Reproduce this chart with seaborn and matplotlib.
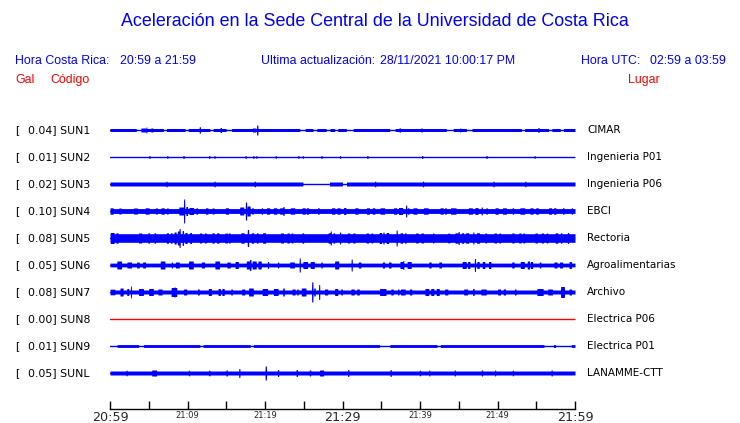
import numpy as np
import pandas as pd
import matplotlib
matplotlib.use("Agg")
import matplotlib.pyplot as plt
import seaborn as sns

# ---------------- data ----------------
codes = ["SUN1", "SUN2", "SUN3", "SUN4", "SUN5", "SUN6", "SUN7", "SUN8", "SUN9", "SUNL"]
gal_values = [0.04, 0.01, 0.02, 0.10, 0.08, 0.05, 0.08, 0.00, 0.01, 0.05]
places = ["CIMAR", "Ingenieria P01", "Ingenieria P06", "EBCI", "Rectoria",
          "Agroalimentarias", "Archivo", "Electrica P06", "Electrica P01", "LANAMME-CTT"]

# minutes after 20:59 (0..60); tick labels every 10 minutes, ticks every 5
tick_minutes = [0, 5, 10, 15, 20, 25, 30, 35, 40, 45, 50, 55, 60]
tick_labels = ["20:59", "", "21:09", "", "21:19", "", "21:29", "", "21:39", "", "21:49", "", "21:59"]

# background envelope half-height of each trace (relative amplitude units)
base_amp = [1.5, 0.5, 2.0, 2.4, 4.3, 1.9, 2.0, 0.5, 1.4, 2.0]

# quiet stretches: (start minute, end minute)
sun1_quiet = [(3.4, 4.1), (6.9, 7.3), (9.7, 10.1), (12.9, 13.3), (15.0, 15.7), (24.5, 25.2),
              (26.2, 26.7), (27.9, 28.4), (29.0, 29.4), (30.5, 31.4), (36.1, 36.8),
              (43.4, 44.3), (46.0, 46.7), (53.1, 53.5), (56.6, 57.0), (58.1, 58.5)]
sun3_quiet = [(24.9, 28.3), (30.0, 30.5)]
sun9_quiet = [(0.0, 0.9), (3.7, 4.3), (11.6, 12.0), (18.1, 18.5), (34.8, 36.1),
              (42.2, 42.6), (56.0, 57.2), (57.5, 59.5)]

# events: (minute, half amplitude, duration in minutes)
sun1_events = [(4.7, 3.0, 0.15), (4.3, 2.0, 0.6), (5.4, 2.0, 0.3), (11.6, 3.3, 0.15),
               (14.3, 2.5, 0.15), (19.0, 5.0, 0.15), (18.6, 2.0, 0.4), (37.4, 2.2, 0.15),
               (40.2, 2.2, 0.15), (45.2, 2.0, 0.15), (55.3, 2.5, 0.15)]
sun2_events = [(5.1, 1.5, 0.15), (7.4, 1.5, 0.15), (9.5, 1.5, 0.15), (12.8, 1.3, 0.15),
               (13.5, 1.3, 0.15), (17.5, 1.3, 0.15), (18.5, 1.3, 0.15), (18.9, 1.3, 0.15),
               (21.4, 1.3, 0.15), (24.3, 1.3, 0.15), (24.9, 1.3, 0.15), (27.3, 1.3, 0.15),
               (29.7, 1.3, 0.15), (33.2, 1.5, 0.15), (40.3, 1.5, 0.15), (48.6, 1.5, 0.15),
               (54.8, 1.3, 0.15)]
sun3_events = [(7.3, 2.8, 0.15), (13.5, 2.8, 0.15), (18.7, 2.8, 0.15), (34.2, 2.8, 0.15),
               (40.4, 2.8, 0.15), (49.5, 2.8, 0.15), (53.6, 2.8, 0.15)]
sun4_events = [(0.2, 3.2, 0.4), (1.3, 3.0, 0.3), (3.3, 3.0, 0.5), (4.8, 3.2, 0.5), (6.0, 3.0, 0.3),
               (6.8, 3.2, 0.4), (7.4, 3.0, 0.2), (9.2, 4.0, 0.6), (9.55, 12.0, 0.15),
               (9.9, 4.5, 0.2), (10.5, 3.5, 0.6), (11.2, 3.2, 0.2), (12.5, 3.2, 0.3),
               (13.3, 3.0, 0.3), (15.1, 3.2, 0.4), (17.0, 4.0, 0.5), (17.55, 9.0, 0.15),
               (17.9, 5.0, 0.4), (18.4, 3.2, 0.2), (19.6, 3.2, 0.2), (20.4, 3.2, 0.4),
               (21.3, 3.2, 0.4), (22.2, 3.2, 0.6), (22.4, 4.5, 0.15), (23.55, 3.2, 0.6),
               (25.0, 3.2, 0.4), (25.5, 3.2, 0.3), (26.9, 3.2, 0.2), (28.8, 3.2, 0.4),
               (29.5, 3.2, 0.4), (30.3, 3.5, 0.3), (31.8, 3.2, 0.4), (33.3, 3.2, 0.4),
               (34.0, 3.2, 0.3), (35.15, 3.2, 0.6), (36.8, 3.2, 0.4), (37.5, 3.5, 0.5),
               (38.2, 6.0, 0.15), (38.5, 3.2, 0.2), (39.35, 3.2, 0.5), (40.75, 3.2, 0.6),
               (42.8, 3.2, 0.4), (43.3, 3.2, 0.2), (44.3, 3.2, 0.7), (46.5, 3.2, 0.5),
               (47.3, 3.4, 0.4), (47.96, 4.0, 0.15), (48.6, 3.2, 0.2), (49.9, 3.2, 0.4),
               (50.9, 3.2, 0.5), (52.0, 3.2, 0.2), (53.2, 3.2, 0.6), (54.4, 3.2, 0.4),
               (55.1, 3.2, 0.3), (56.8, 3.2, 0.4), (57.4, 3.2, 0.3), (58.5, 3.2, 0.2),
               (59.6, 3.2, 0.2)]
sun5_events = [(0.3, 5.5, 0.5), (0.9, 5.2, 0.3), (3.9, 5.0, 0.4), (5.0, 5.5, 0.15), (5.8, 5.2, 0.2),
               (7.4, 5.2, 0.3), (7.9, 5.2, 0.2), (8.4, 6.0, 0.3), (8.8, 7.0, 0.2), (9.0, 9.5, 0.15),
               (9.4, 7.5, 0.15), (9.8, 5.5, 0.3), (10.4, 5.5, 0.2), (11.7, 5.0, 0.3),
               (12.3, 5.0, 0.2), (13.3, 5.2, 0.3), (13.9, 5.2, 0.3), (15.0, 5.0, 0.3),
               (15.4, 5.0, 0.2), (17.1, 5.2, 0.4), (17.8, 8.5, 0.15), (18.4, 5.2, 0.3),
               (19.0, 5.2, 0.2), (19.9, 5.2, 0.4), (22.2, 5.0, 0.4), (23.0, 5.0, 0.3),
               (23.5, 5.0, 0.2), (24.9, 5.2, 0.2), (28.3, 5.2, 0.3), (28.5, 7.0, 0.15),
               (28.9, 5.2, 0.2), (29.7, 6.0, 0.15), (30.8, 5.0, 0.3), (31.5, 5.0, 0.3),
               (33.2, 5.0, 0.3), (33.8, 5.0, 0.2), (34.9, 5.5, 0.3), (35.3, 6.0, 0.15),
               (35.8, 5.5, 0.3), (37.0, 8.0, 0.15), (37.6, 5.2, 0.3), (38.1, 5.2, 0.2),
               (39.6, 5.0, 0.3), (40.3, 5.0, 0.3), (41.7, 5.0, 0.2), (43.7, 4.8, 0.3),
               (44.7, 5.2, 0.4), (45.0, 6.5, 0.15), (45.5, 5.2, 0.3), (46.1, 5.2, 0.4),
               (46.9, 6.0, 0.15), (47.5, 5.2, 0.4), (48.5, 5.0, 0.2), (49.7, 5.0, 0.3),
               (50.3, 5.0, 0.2), (52.0, 5.0, 0.3), (52.9, 5.0, 0.3), (53.4, 5.0, 0.2),
               (55.0, 5.0, 0.3), (55.8, 5.0, 0.3), (56.4, 5.0, 0.2), (57.6, 5.2, 0.3),
               (58.2, 5.2, 0.2), (59.1, 5.5, 0.15)]
sun6_events = [(1.2, 4.0, 0.6), (2.5, 3.0, 0.6), (3.6, 3.0, 0.3), (4.4, 3.0, 0.4), (6.8, 4.0, 0.6),
               (8.0, 3.0, 0.15), (8.7, 3.0, 0.5), (10.45, 4.0, 0.6), (12.0, 3.0, 0.4),
               (13.85, 4.0, 0.6), (15.3, 3.0, 0.4), (16.35, 3.5, 0.4), (17.8, 4.0, 0.4),
               (18.1, 5.5, 0.15), (18.6, 4.0, 0.5), (19.3, 4.0, 0.4), (20.4, 3.5, 0.15),
               (21.7, 3.0, 0.15), (23.5, 3.0, 0.6), (24.5, 7.0, 0.15), (25.2, 3.5, 0.6),
               (26.1, 3.5, 0.5), (27.3, 3.0, 0.15), (29.25, 4.0, 0.5), (31.2, 6.0, 0.15),
               (32.2, 3.0, 0.3), (35.3, 3.0, 0.3), (36.1, 3.0, 0.3), (37.6, 3.5, 0.4),
               (37.85, 4.5, 0.15), (38.6, 3.5, 0.5), (41.3, 3.0, 0.3), (42.6, 3.0, 0.3),
               (45.7, 3.5, 0.5), (46.3, 3.5, 0.3), (47.1, 6.5, 0.15), (47.5, 3.5, 0.3),
               (48.2, 3.5, 0.3), (49.0, 3.5, 0.3), (52.0, 3.0, 0.3), (53.2, 3.5, 0.5),
               (54.0, 4.0, 0.3), (54.4, 3.5, 0.3), (55.5, 3.0, 0.2), (57.5, 3.0, 0.4),
               (58.2, 3.0, 0.4), (59.4, 3.5, 0.3)]
sun7_events = [(0.3, 2.8, 0.65), (1.5, 4.0, 0.4), (2.3, 3.5, 0.25), (2.7, 6.0, 0.15),
               (4.0, 3.5, 0.6), (5.3, 3.5, 0.6), (6.45, 3.0, 0.5), (8.1, 4.5, 0.4), (8.3, 5.0, 0.15),
               (8.5, 4.5, 0.2), (9.7, 3.0, 0.4), (11.4, 3.0, 0.2), (12.9, 3.5, 0.4),
               (14.1, 3.5, 0.3), (14.6, 3.5, 0.3), (15.7, 3.0, 0.2), (17.2, 3.0, 0.4),
               (18.2, 4.0, 0.6), (20.0, 3.5, 0.7), (21.4, 3.5, 0.6), (22.4, 4.0, 0.2),
               (23.7, 3.0, 0.4), (24.2, 3.0, 0.2), (25.0, 4.0, 0.6), (26.1, 10.0, 0.15),
               (26.4, 4.0, 0.2), (27.0, 7.5, 0.15), (27.9, 3.0, 0.4), (29.2, 3.5, 0.4),
               (29.9, 3.0, 0.2), (31.3, 3.0, 0.4), (32.0, 3.0, 0.3), (35.2, 3.5, 0.8),
               (36.4, 3.0, 0.3), (37.2, 3.0, 0.2), (37.8, 3.0, 0.6), (38.8, 3.0, 0.3),
               (40.9, 3.5, 0.5), (41.6, 3.5, 0.4), (42.3, 3.5, 0.4), (43.4, 3.0, 0.4),
               (45.9, 3.0, 0.5), (46.9, 3.5, 0.2), (48.2, 3.0, 0.7), (50.2, 3.0, 0.4),
               (50.9, 3.0, 0.3), (52.3, 3.0, 0.2), (55.5, 3.5, 0.8), (56.8, 3.0, 0.6),
               (58.4, 5.5, 0.5), (59.4, 3.0, 0.3)]
sun8_events = []
sun9_events = []
sunl_events = [(2.15, 2.8, 0.15), (5.7, 3.0, 0.6), (10.2, 2.8, 0.15), (12.8, 2.8, 0.15),
               (15.05, 3.0, 0.15), (16.7, 4.5, 0.15), (20.1, 7.0, 0.15), (21.7, 3.5, 0.15),
               (24.1, 3.5, 0.15), (25.8, 3.0, 0.15), (27.3, 3.0, 0.5), (30.75, 3.5, 0.15),
               (36.2, 3.5, 0.15), (40.0, 2.8, 0.15), (41.2, 3.0, 0.15), (44.5, 3.0, 0.15),
               (48.0, 3.0, 0.15), (49.7, 3.0, 0.15), (52.0, 2.8, 0.15), (57.0, 3.0, 0.15)]

all_events = [sun1_events, sun2_events, sun3_events, sun4_events, sun5_events,
              sun6_events, sun7_events, sun8_events, sun9_events, sunl_events]
all_quiet = [sun1_quiet, [], sun3_quiet, [], [], [], [], [], sun9_quiet, []]
trace_colors = ["#0000ff"] * 7 + ["#ff0000"] + ["#0000ff"] * 2

# ---------------- figure ----------------
sns.set_style("white")
plt.rcParams["font.family"] = ["DejaVu Sans"]

W, H = 740, 423
fig = plt.figure(figsize=(W / 100, H / 100), dpi=100)
fig.patch.set_facecolor("white")

def fx(x):
    return x / W

def fy(y):
    return 1 - y / H

BLUE = "#0000ff"
RED = "#ff0000"
LIB = ["Liberation Sans", "DejaVu Sans"]

# header texts
fig.text(fx(375), fy(22), "Aceleración en la Sede Central de la Universidad de Costa Rica",
         ha="center", va="center", color=BLUE, fontsize=12.9, family=LIB)
hdr = 8.9
fig.text(fx(15), fy(61), "Hora Costa Rica:", ha="left", va="center", color=BLUE, fontsize=hdr, family=LIB)
fig.text(fx(120), fy(61), "20:59 a 21:59", ha="left", va="center", color=BLUE, fontsize=hdr, family=LIB)
fig.text(fx(261), fy(61), "Ultima actualización:", ha="left", va="center", color=BLUE, fontsize=hdr, family=LIB)
fig.text(fx(380), fy(61), "28/11/2021 10:00:17 PM", ha="left", va="center", color=BLUE, fontsize=hdr, family=LIB)
fig.text(fx(581), fy(61), "Hora UTC:", ha="left", va="center", color=BLUE, fontsize=hdr, family=LIB)
fig.text(fx(726), fy(61), "02:59 a 03:59", ha="right", va="center", color=BLUE, fontsize=hdr, family=LIB)
fig.text(fx(15), fy(80), "Gal", ha="left", va="center", color=RED, fontsize=hdr, family=LIB)
fig.text(fx(50), fy(80), "Código", ha="left", va="center", color=RED, fontsize=hdr, family=LIB)
fig.text(fx(628), fy(80), "Lugar", ha="left", va="center", color=RED, fontsize=hdr, family=LIB)

# trace axes: rows 27 px apart, first row at y=130 px, axis line at y=409 px
top_px, bot_px, row0_px, step_px = 115, 409, 130, 27
ax = fig.add_axes([fx(110), fy(bot_px), (575 - 110) / W, (bot_px - top_px) / H])
ax.set_xlim(0, 60)
ax.set_ylim((bot_px - row0_px) / step_px, (top_px - row0_px) / step_px)
ax.set_facecolor("none")

t = np.linspace(0, 60, 2401)
for i, code in enumerate(codes):
    env = np.full_like(t, base_amp[i])
    for (a, b) in all_quiet[i]:
        env[(t >= a) & (t <= b)] = 0.5
    for (tc, amp, w) in all_events[i]:
        m = np.abs(t - tc) <= w / 2
        env[m] = np.maximum(env[m], amp)
    scale = 1.0 / step_px
    ax.fill_between(t, i - env * scale, i + env * scale, color=trace_colors[i], lw=0)
    df = pd.DataFrame({"t": [0, 60], "y": [i, i]})
    sns.lineplot(data=df, x="t", y="y", ax=ax, color=trace_colors[i], lw=1.0)

    # labels
    fig.text(fx(15), fy(row0_px + step_px * i), "[", ha="left", va="center",
             fontsize=7.8, color="black")
    fig.text(fx(27.5), fy(row0_px + step_px * i), f"{gal_values[i]:.2f}] {code}",
             ha="left", va="center", fontsize=7.8, color="black")
    fig.text(fx(587), fy(row0_px + step_px * i), places[i], ha="left", va="center",
             fontsize=7.5, color="black")

for s in ["top", "left", "right"]:
    ax.spines[s].set_visible(False)
ax.spines["bottom"].set_color("black")
ax.spines["bottom"].set_linewidth(1.0)
ax.set_yticks([])
ax.set_xlabel("")
ax.set_ylabel("")
ax.set_xticks(tick_minutes)
ax.set_xticklabels(tick_labels)
ax.tick_params(axis="x", direction="in", length=6, width=1, color="black", pad=1.5)
for lab, m in zip(ax.get_xticklabels(), tick_minutes):
    if m % 30 == 0:
        lab.set_fontsize(9.2)
    else:
        lab.set_fontsize(6)
ax.tick_params(axis="x", bottom=True)

fig.savefig("out.png", dpi=100)
